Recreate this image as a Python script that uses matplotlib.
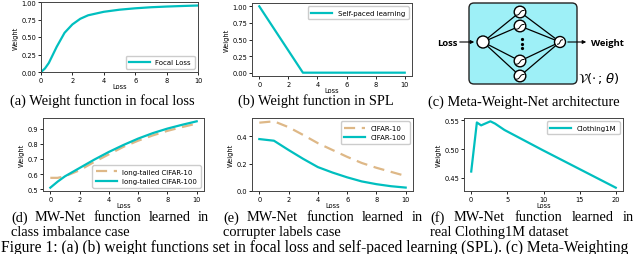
import numpy as np
import matplotlib
matplotlib.use("Agg")
import matplotlib.pyplot as plt
from matplotlib.patches import Circle, FancyBboxPatch

CYAN = "c"
TAN = "burlywood"

# (a) focal loss weight
focal_loss = [0, 0.25, 0.5, 1, 1.5, 2, 2.5, 3, 4, 5, 6, 7, 8, 9, 10]
focal_weight = [0, 0.05, 0.13, 0.36, 0.56, 0.68, 0.76, 0.81, 0.86, 0.89, 0.91, 0.925, 0.935, 0.943, 0.95]

# (b) self-paced learning
spl_loss = [0, 3, 10]
spl_weight = [1, 0, 0]

# (d) class imbalance
imb_loss = [0, 0.5, 1, 2, 3, 4, 5, 6, 7, 8, 9, 10]
imb_c10 = [0.575, 0.575, 0.585, 0.625, 0.68, 0.73, 0.78, 0.82, 0.855, 0.885, 0.91, 0.933]
imb_c100 = [0.51, 0.55, 0.585, 0.64, 0.695, 0.746, 0.792, 0.834, 0.87, 0.9, 0.925, 0.948]

# (e) corrupted labels
cor_loss = [0, 1, 2, 3, 4, 5, 6, 7, 8, 9, 10]
cor_c10 = [0.50, 0.51, 0.467, 0.41, 0.35, 0.30, 0.25, 0.205, 0.17, 0.14, 0.11]
cor_c100 = [0.38, 0.368, 0.30, 0.235, 0.175, 0.135, 0.10, 0.07, 0.05, 0.035, 0.025]

# (f) Clothing1M
clo_loss = [0, 0.78, 1.37, 2.65, 3.3, 4.6, 9.8, 20]
clo_weight = [0.461, 0.546, 0.541, 0.548, 0.544, 0.533, 0.4986, 0.433]

W, H = 640, 255
fig = plt.figure(figsize=(6.4, 2.55), dpi=100)


def px_axes(x0, y0, x1, y1):
    return fig.add_axes([x0 / W, 1 - y1 / H, (x1 - x0) / W, (y1 - y0) / H])


def style(ax):
    ax.tick_params(labelsize=4.8, length=2, width=0.6, pad=1.5)
    ax.set_xlabel("Loss", fontsize=4.8, labelpad=0)
    ax.set_ylabel("Weight", fontsize=4.8, labelpad=2)
    for s in ax.spines.values():
        s.set_linewidth(0.7)
        s.set_color("#444444")


leg_kw = dict(fontsize=5, handlelength=3, borderpad=0.5, labelspacing=0.5, framealpha=1)

ax = px_axes(41, 3, 198, 73)
ax.plot(focal_loss, focal_weight, color=CYAN, lw=1.6, label="Focal Loss")
ax.set_xlim(0, 10)
ax.set_ylim(0, 1)
ax.set_yticks([0, 0.25, 0.5, 0.75, 1.0])
ax.yaxis.set_major_formatter(plt.FormatStrFormatter("%.2f"))
ax.legend(loc="lower right", **leg_kw)
style(ax)

ax = px_axes(252, 4, 412, 77)
ax.plot(spl_loss, spl_weight, color=CYAN, lw=1.6, label="Self-paced learning")
ax.set_xticks([0, 2, 4, 6, 8, 10])
ax.legend(loc="upper right", **leg_kw)
style(ax)

ax = px_axes(43, 119, 204, 192)
ax.plot(imb_loss, imb_c10, color=TAN, lw=1.6, ls=(0, (5, 3)), label="long-tailed CIFAR-10")
ax.plot(imb_loss, imb_c100, color=CYAN, lw=1.6, label="long-tailed CIFAR-100")
ax.set_xticks([0, 2, 4, 6, 8, 10])
ax.legend(loc="lower right", **leg_kw)
style(ax)

ax = px_axes(252, 119, 413, 192)
ax.plot(cor_loss, cor_c10, color=TAN, lw=1.6, ls=(0, (5, 3)), label="CIFAR-10")
ax.plot(cor_loss, cor_c100, color=CYAN, lw=1.6, label="CIFAR-100")
ax.set_xticks([0, 2, 4, 6, 8, 10])
ax.set_yticks([0, 0.2, 0.4])
ax.legend(loc="upper right", **leg_kw)
style(ax)

ax = px_axes(464, 119, 623, 192)
ax.plot(clo_loss, clo_weight, color=CYAN, lw=1.6, label="Clothing1M")
ax.set_xticks([0, 5, 10, 15, 20])
ax.set_yticks([0.45, 0.50, 0.55])
ax.yaxis.set_major_formatter(plt.FormatStrFormatter("%.2f"))
ax.legend(loc="upper right", **leg_kw)
style(ax)

# overlay in pixel coordinates for the diagram and captions
ov = fig.add_axes([0, 0, 1, 1], zorder=-1)
ov.set_xlim(0, W)
ov.set_ylim(H, 0)
ov.axis("off")

# Meta-Weight-Net diagram
ov.add_patch(FancyBboxPatch((469, 4), 108, 81, boxstyle="round,pad=0,rounding_size=5",
                            fc="#9ef0f7", ec="#222222", lw=1.0))
inp = (483, 43)
outp = (560, 43)
hidden = [(520, 13), (520, 27), (520, 62), (520, 77)]
for h in hidden:
    ov.plot([inp[0], h[0]], [inp[1], h[1]], color="black", lw=0.9)
    ov.plot([h[0], outp[0]], [h[1], outp[1]], color="black", lw=0.9)
ov.add_patch(Circle(inp, 6, fc="white", ec="black", lw=1.0, zorder=3))
ov.add_patch(Circle(outp, 5.5, fc="white", ec="black", lw=1.0, zorder=3))
t = np.linspace(-1, 1, 20)
for h in hidden:
    ov.add_patch(Circle(h, 5.8, fc="white", ec="black", lw=1.0, zorder=3))
    ov.plot(h[0] + 4 * t, h[1] - 2.4 * np.tanh(2.5 * t) + 0.8, color="black", lw=0.7, zorder=4)
ov.plot(outp[0] + 2.5 * t, outp[1] - 2.5 * np.tanh(2.5 * t) * 0.9, color="black", lw=0.7, zorder=4)
for yy in (40, 44.5, 49):
    ov.plot(522, yy, "o", ms=1.3, color="black")
ov.annotate("", xy=(477, 43), xytext=(457, 43),
            arrowprops=dict(arrowstyle="-|>", lw=0.8, color="black", mutation_scale=5))
ov.annotate("", xy=(589, 43), xytext=(565, 43),
            arrowprops=dict(arrowstyle="-|>", lw=0.8, color="black", mutation_scale=5))
ov.text(457, 43, "Loss", ha="right", va="center", fontsize=6.8, fontweight="bold",
        family="Open Sans")
ov.text(591, 43, "Weight", ha="left", va="center", fontsize=6.8, fontweight="bold",
        family="Open Sans")
ov.text(578, 79, r"$\mathcal{V}(\cdot\,;\theta)$", ha="left", va="center", fontsize=9.5)

serif = dict(family="Liberation Serif", fontsize=10.4, va="center")
ov.text(10, 101, "(a) Weight function in focal loss", ha="left", **serif)
ov.text(316, 101, "(b) Weight function in SPL", ha="center", **serif)
ov.text(524, 102, "(c) Meta-Weight-Net architecture", ha="center", **serif)


def justify(words, x0, x1, y):
    objs = [ov.text(0, y, w, ha="left", **serif) for w in words]
    fig.canvas.draw()
    r = fig.canvas.get_renderer()
    widths = [o.get_window_extent(r).width for o in objs]
    gap = (x1 - x0 - sum(widths)) / (len(words) - 1)
    x = x0
    for o, w in zip(objs, widths):
        o.set_x(x)
        x += w + gap


justify("(d) MW-Net function learned in".split(), 11, 209, 218)
justify("(e) MW-Net function learned in".split(), 223, 423, 218)
justify("(f) MW-Net function learned in".split(), 430, 634, 218)
ov.text(11, 233, "class imbalance case", ha="left", **serif)
ov.text(223, 233, "corrupter labels case", ha="left", **serif)
ov.text(430, 233, "real Clothing1M dataset", ha="left", **serif)
ov.text(1, 248, "Figure 1: (a) (b) weight functions set in focal loss and self-paced learning (SPL). (c) Meta-Weighting",
        ha="left", family="Liberation Serif", fontsize=11.2, va="center")

fig.savefig("out.png", dpi=100)
